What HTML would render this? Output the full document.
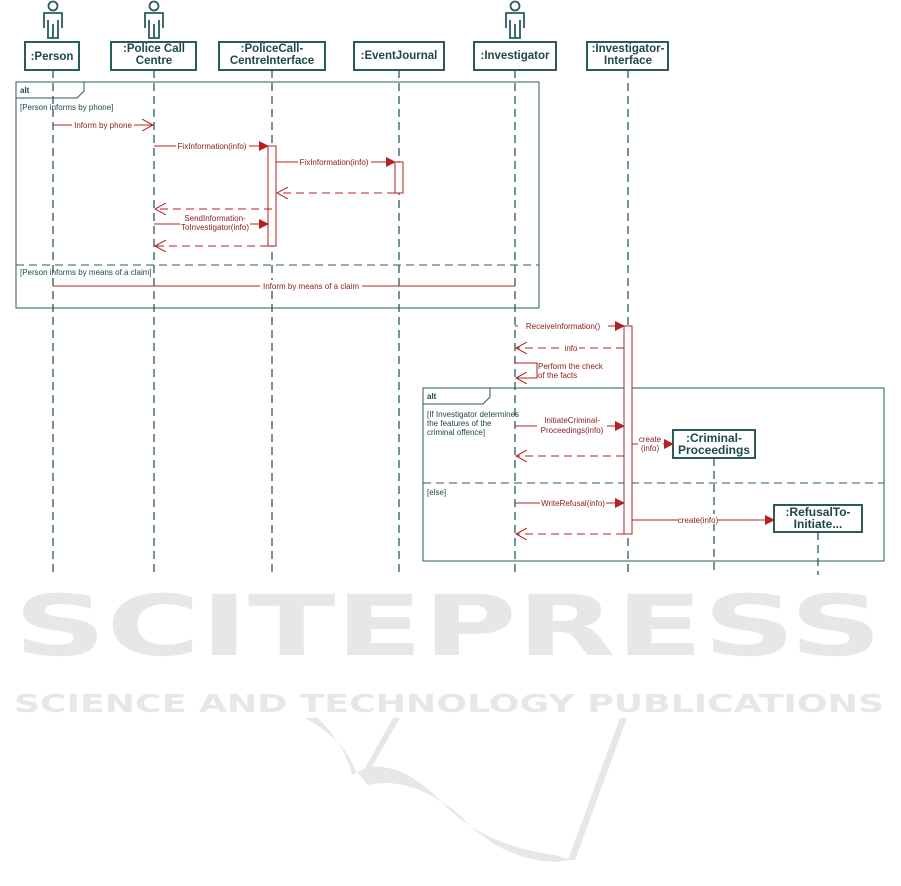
<!DOCTYPE html>
<html><head><meta charset="utf-8"><style>
body{margin:0;background:#fff;width:901px;height:886px;overflow:hidden}
svg{display:block}
</style></head><body>
<svg width="901" height="886" viewBox="0 0 901 886" xmlns="http://www.w3.org/2000/svg" font-family="Liberation Sans, sans-serif">
<defs>
<marker id="f" markerWidth="10" markerHeight="10" refX="9" refY="5" orient="auto" markerUnits="userSpaceOnUse"><path d="M0,0 L10,5 L0,10 z" fill="#b22222"/></marker>
<marker id="o" markerWidth="12" markerHeight="12" refX="11" refY="6" orient="auto" markerUnits="userSpaceOnUse"><path d="M0,0 L11,6 L0,12" fill="none" stroke="#b22222" stroke-width="1"/></marker>
</defs>
<!-- watermark -->
<g fill="#e6e8e7" stroke="none">
<text x="14" y="655" font-size="84" font-weight="bold" textLength="868" lengthAdjust="spacingAndGlyphs" font-family="DejaVu Sans, sans-serif">SCITEPRESS</text>
<text x="14" y="712" font-size="25" font-weight="bold" textLength="870" lengthAdjust="spacingAndGlyphs" font-family="DejaVu Sans, sans-serif">SCIENCE AND TECHNOLOGY PUBLICATIONS</text>
<path d="M305,718 L318,718 Q345,745 352,775 L365,768 Q400,760 440,800 Q480,845 555,855 L571,860 L556,862 Q500,860 460,815 Q410,775 368,785 L355,770 Q345,740 305,718 z"/>
<path d="M393,718 L400,718 L370,770 L365,768 z"/>
<path d="M620,718 L627,718 L575,860 L568,860 z"/>
</g>
<g stroke="#2a5c5c" fill="none">
<!-- lifelines -->
<g stroke-dasharray="8,5" stroke-width="1.3">
<line x1="53" y1="70" x2="53" y2="575"/>
<line x1="154" y1="70" x2="154" y2="575"/>
<line x1="272" y1="70" x2="272" y2="575"/>
<line x1="399" y1="70" x2="399" y2="575"/>
<line x1="515" y1="70" x2="515" y2="575"/>
<line x1="628" y1="70" x2="628" y2="575"/>
<line x1="714" y1="458" x2="714" y2="575"/>
<line x1="818" y1="532" x2="818" y2="575"/>
</g>
<g stroke-width="2" fill="#fff">
<rect x="25" y="42" width="54" height="28"/>
<rect x="111" y="42" width="85" height="28"/>
<rect x="219" y="42" width="106" height="28"/>
<rect x="354" y="42" width="90" height="28"/>
<rect x="474" y="42" width="82" height="28"/>
<rect x="587" y="42" width="81" height="28"/>
<rect x="673" y="430" width="82" height="28"/>
<rect x="774" y="505" width="88" height="27"/>
</g>
<!-- actors -->
<g stroke-width="1.8">
<g transform="translate(53,0)"><circle cx="0" cy="6" r="4.5"/><path d="M-9,28 L-9,13 L9,13 L9,28 M-5,20 L-5,38 L5,38 L5,20 M0,24 L0,38"/></g>
<g transform="translate(154,0)"><circle cx="0" cy="6" r="4.5"/><path d="M-9,28 L-9,13 L9,13 L9,28 M-5,20 L-5,38 L5,38 L5,20 M0,24 L0,38"/></g>
<g transform="translate(515,0)"><circle cx="0" cy="6" r="4.5"/><path d="M-9,28 L-9,13 L9,13 L9,28 M-5,20 L-5,38 L5,38 L5,20 M0,24 L0,38"/></g>
</g>
<!-- frames -->
<rect x="16" y="82" width="523" height="226" stroke-width="1"/>
<path d="M16,98 L77,98 L84,91 L84,82" stroke-width="1"/>
<line x1="16" y1="265" x2="539" y2="265" stroke-dasharray="8,5" stroke-width="1"/>
<rect x="423" y="388" width="461" height="173" stroke-width="1"/>
<path d="M423,404 L483,404 L490,397 L490,388" stroke-width="1"/>
<line x1="423" y1="483" x2="884" y2="483" stroke-dasharray="8,5" stroke-width="1"/>
</g>
<g fill="#1e4848" font-weight="bold" font-size="11.5" text-anchor="middle">
<text x="52" y="60">:Person</text>
<text x="154" y="52">:Police Call</text><text x="154" y="64">Centre</text>
<text x="272" y="52">:PoliceCall-</text><text x="272" y="64">CentreInterface</text>
<text x="399" y="59">:EventJournal</text>
<text x="515" y="59">:Investigator</text>
<text x="628" y="52">:Investigator-</text><text x="628" y="64">Interface</text>
<text x="714" y="442" font-size="12">:Criminal-</text><text x="714" y="454" font-size="12">Proceedings</text>
<text x="818" y="516" font-size="12">:RefusalTo-</text><text x="818" y="528" font-size="12">Initiate...</text>
</g>
<g fill="#1e4848" font-size="8">
<text x="20" y="93" font-weight="bold">alt</text>
<text x="427" y="399" font-weight="bold">alt</text>
<text x="20" y="110">[Person informs by phone]</text>
<text x="20" y="275">[Person informs by means of a claim]</text>
<text x="427" y="417">[If Investigator determines</text>
<text x="427" y="426">the features of the</text>
<text x="427" y="435">criminal offence]</text>
<text x="427" y="495">[else]</text>
</g>
<!-- activations -->
<g stroke="#b22222" fill="#fff" stroke-width="1">
<rect x="268" y="146" width="8" height="100"/>
<rect x="395" y="162" width="8" height="31"/>
<rect x="624" y="326" width="8" height="208"/>
</g>
<g stroke="#b22222" stroke-width="1" fill="none">
<line x1="53" y1="125" x2="153" y2="125" marker-end="url(#o)"/>
<line x1="154" y1="146" x2="268" y2="146" marker-end="url(#f)"/>
<line x1="276" y1="162" x2="395" y2="162" marker-end="url(#f)"/>
<line x1="395" y1="193" x2="277" y2="193" stroke-dasharray="8,5" marker-end="url(#o)"/>
<line x1="272" y1="209" x2="155" y2="209" stroke-dasharray="8,5" marker-end="url(#o)"/>
<line x1="154" y1="224" x2="268" y2="224" marker-end="url(#f)"/>
<line x1="268" y1="246" x2="155" y2="246" stroke-dasharray="8,5" marker-end="url(#o)"/>
<line x1="53" y1="286" x2="515" y2="286"/>
<line x1="515" y1="326" x2="624" y2="326" marker-end="url(#f)"/>
<line x1="624" y1="348" x2="516" y2="348" stroke-dasharray="8,5" marker-end="url(#o)"/>
<path d="M515,363 L537,363 L537,378 L516,378" marker-end="url(#o)"/>
<line x1="515" y1="426" x2="624" y2="426" marker-end="url(#f)"/>
<line x1="632" y1="444" x2="673" y2="444" marker-end="url(#f)"/>
<line x1="624" y1="456" x2="516" y2="456" stroke-dasharray="8,5" marker-end="url(#o)"/>
<line x1="515" y1="503" x2="624" y2="503" marker-end="url(#f)"/>
<line x1="632" y1="520" x2="774" y2="520" marker-end="url(#f)"/>
<line x1="624" y1="534" x2="516" y2="534" stroke-dasharray="8,5" marker-end="url(#o)"/>
</g>
<g fill="#8b1a1a" font-size="8" text-anchor="middle">
<g fill="#fff" stroke="none">
<rect x="72" y="119" width="62" height="10"/><rect x="176" y="140" width="73" height="10"/>
<rect x="298" y="156" width="73" height="10"/><rect x="180" y="213" width="70" height="20"/>
<rect x="260" y="280" width="102" height="10"/><rect x="518" y="320" width="90" height="10"/>
<rect x="563" y="342" width="16" height="10"/><rect x="537" y="414" width="70" height="21"/>
<rect x="638" y="434" width="25" height="20"/><rect x="540" y="497" width="66" height="10"/>
<rect x="678" y="514" width="40" height="10"/>
</g>
<text x="103" y="128">Inform by phone</text>
<text x="212" y="149">FixInformation(info)</text>
<text x="334" y="165">FixInformation(info)</text>
<text x="215" y="221">SendInformation-</text><text x="215" y="230">ToInvestigator(info)</text>
<text x="311" y="289">Inform by means of a claim</text>
<text x="563" y="329">ReceiveInformation()</text>
<text x="571" y="351">info</text>
<text x="538" y="369" text-anchor="start">Perform the check</text>
<text x="538" y="378" text-anchor="start">of the facts</text>
<text x="572" y="423">InitiateCriminal-</text><text x="572" y="433">Proceedings(info)</text>
<text x="650" y="442">create</text><text x="650" y="451">(info)</text>
<text x="573" y="506">WriteRefusal(info)</text>
<text x="698" y="523">create(info)</text>
</g>
</svg>
</body></html>
